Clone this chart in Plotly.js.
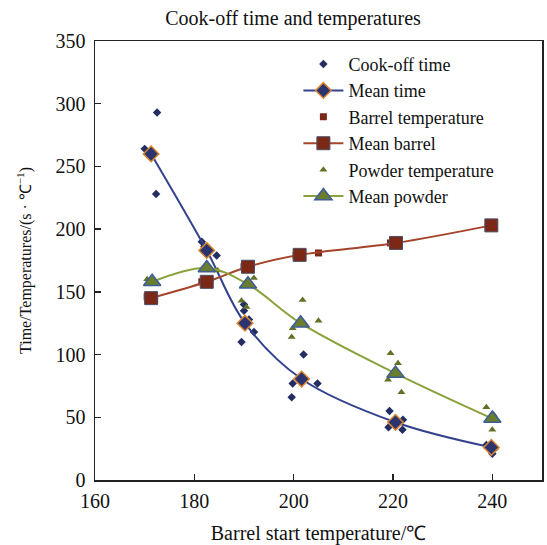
<!DOCTYPE html>
<html>
<head>
<meta charset="utf-8">
<script src="https://cdn.plot.ly/plotly-3.0.1.min.js"></script>
<style>html,body{margin:0;padding:0;background:#fff;}#chart{width:547px;height:545px;}</style>
</head>
<body>
<div id="chart"></div>
<script>
// Individual cook-off times
const cookX = [170, 172.5, 172.3, 181.5, 182, 184.5, 189.5, 190, 191, 192, 190, 202, 199.8, 204.8, 199.6, 219.3, 219.1, 221.9, 222, 238.8, 240, 240.5];
const cookY = [264, 293, 228, 190, 186, 179, 110, 135, 128, 118, 140, 100, 77, 77, 66, 55, 42, 40, 48, 28, 21, 25];
// Mean cook-off time
const meanX = [171.3, 182.5, 190.2, 201.6, 220.5, 239.8];
const meanTime = [260, 183, 125, 80.5, 46, 26];
// Barrel temperatures
const barrelX = [170.5, 172, 181.5, 183, 190, 191.5, 200.5, 201.5, 205, 219.5, 221, 239.5, 240];
const barrelY = [146, 143.5, 158, 158.5, 170, 169, 179, 180, 181, 189, 190, 203, 203.5];
const meanBarrelX = [171.3, 182.5, 190.8, 201.2, 220.6, 239.8];
const meanBarrel = [145, 158, 170, 179.5, 189, 203];
// Powder temperatures
const powderX = [170.5, 172, 184.7, 192, 189.5, 190.5, 201.8, 205, 199.8, 199.6, 219.5, 221, 219, 221.7, 238.8, 240, 240.3];
const powderY = [160, 157, 167, 161, 143, 138, 143.5, 127, 121, 114, 101, 93, 80, 70, 58, 40, 52];
const meanPowderX = [171.5, 182.5, 190.8, 201.4, 220.5, 240];
const meanPowder = [158, 169, 156, 125, 85, 49];

const FONT = '"Liberation Serif", "Times New Roman", serif';

const traces = [
  {x: cookX, y: cookY, name: 'Cook-off time', mode: 'markers', type: 'scatter',
   marker: {symbol: 'diamond', size: 6.5, color: '#222d62'}},
  {x: meanX, y: meanTime, name: 'Mean time', mode: 'lines+markers', type: 'scatter',
   line: {shape: 'spline', smoothing: 1, color: '#34428e', width: 2},
   marker: {symbol: 'diamond', size: 12, color: '#2c3470', line: {color: '#d9872f', width: 1.5}}},
  {x: barrelX, y: barrelY, name: 'Barrel temperature', mode: 'markers', type: 'scatter',
   marker: {symbol: 'square', size: 7, color: '#7b2816'}},
  {x: meanBarrelX, y: meanBarrel, name: 'Mean barrel', mode: 'lines+markers', type: 'scatter',
   line: {shape: 'spline', smoothing: 1, color: '#a5442a', width: 2},
   marker: {symbol: 'square', size: 13, color: '#7b2816', line: {color: '#4a4f6a', width: 1}}},
  {x: powderX, y: powderY, name: 'Powder temperature', mode: 'markers', type: 'scatter',
   marker: {symbol: 'triangle-up', size: 7, color: '#5f7226'}},
  {x: meanPowderX, y: meanPowder, name: 'Mean powder', mode: 'lines+markers', type: 'scatter',
   line: {shape: 'spline', smoothing: 1, color: '#8aa23c', width: 2},
   marker: {symbol: 'triangle-up', size: 15, color: '#6a7d2c', line: {color: '#3b5d9a', width: 1.5}}}
];

const layout = {
  width: 547, height: 545,
  margin: {l: 95, r: 5, t: 41, b: 65},
  paper_bgcolor: '#fff', plot_bgcolor: '#fff',
  font: {family: FONT, color: '#111', size: 18},
  title: {text: 'Cook-off time and temperatures', font: {family: FONT, size: 20, color: '#111'},
          x: 293/547, xref: 'container', xanchor: 'center', y: 1 - 18/545, yref: 'container', yanchor: 'middle'},
  xaxis: {range: [160, 250], dtick: 20, tick0: 160, ticks: 'inside', ticklen: 6, tickwidth: 1.5, tickcolor: '#222',
          showline: true, linecolor: '#222', linewidth: 1.5, mirror: true, showgrid: false, zeroline: false,
          ticklabelstandoff: 2,
          tickfont: {family: FONT, size: 20, color: '#111'},
          title: {text: 'Barrel start temperature/℃', font: {family: FONT, size: 20, color: '#111'}, standoff: 16}},
  yaxis: {range: [0, 350], dtick: 50, tick0: 0, ticks: 'inside', ticklen: 6, tickwidth: 1.5, tickcolor: '#222',
          showline: true, linecolor: '#222', linewidth: 1.5, mirror: true, showgrid: false, zeroline: false,
          ticklabelstandoff: 4,
          tickfont: {family: FONT, size: 20, color: '#111'},
          title: {text: 'Time/Temperatures/(s · ℃<sup>−1</sup>)', font: {family: FONT, size: 16, color: '#111'}, standoff: 20}},
  legend: {x: 0.455, y: 0.989, xanchor: 'left', yanchor: 'top', bgcolor: 'rgba(0,0,0,0)',
           font: {family: FONT, size: 18, color: '#111'}, itemwidth: 40, tracegroupgap: 0},
  showlegend: true
};

Plotly.newPlot('chart', traces, layout, {displayModeBar: false, staticPlot: true});
</script>
</body>
</html>
